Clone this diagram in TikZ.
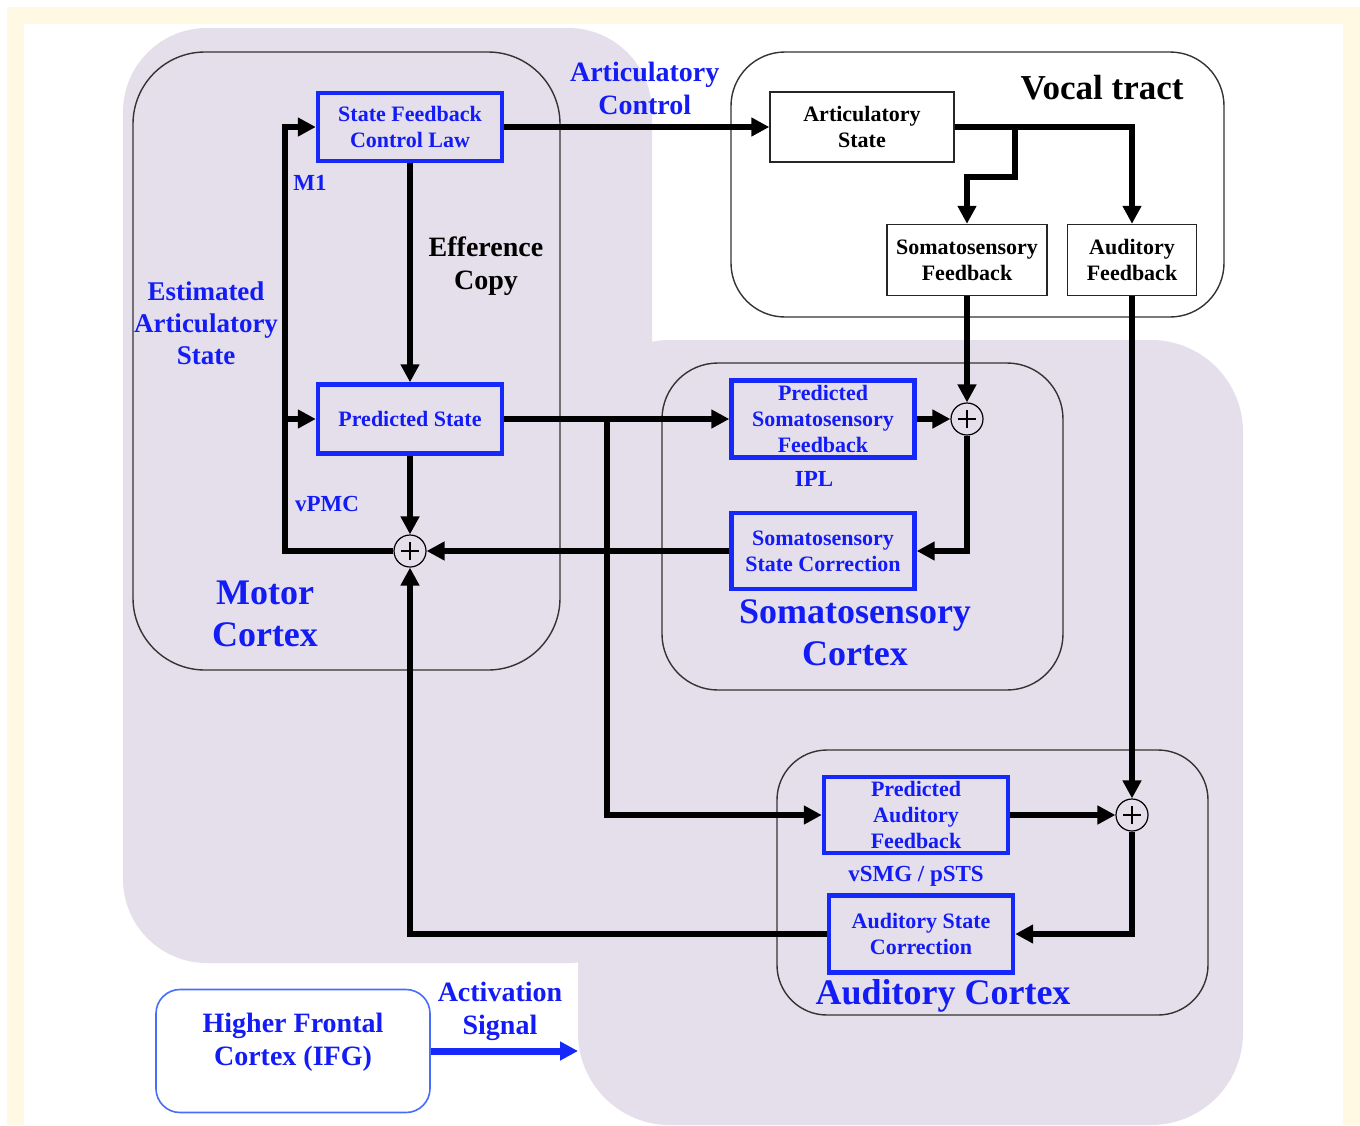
\documentclass[tikz,border=0pt]{standalone}
\usepackage{fontspec}
\setmainfont{Liberation Serif}
\usetikzlibrary{arrows.meta,positioning}
\definecolor{creamframe}{RGB}{255,248,226}
\definecolor{cortexlav}{RGB}{228,223,234}
\definecolor{boxblue}{RGB}{22,40,250}
\definecolor{labelblue}{RGB}{20,28,245}
\definecolor{ifgblue}{RGB}{70,110,250}

\begin{document}
\begin{tikzpicture}[x=0.5pt, y=-0.5pt,
    bbox/.style={draw=boxblue, line width=2.2pt, text=labelblue, font=\fontsize{11}{13}\selectfont\bfseries, align=center, inner sep=0pt},
    kbox/.style={draw=black!85, line width=0.7pt, fill=white, font=\fontsize{11}{13}\selectfont\bfseries, align=center, inner sep=0pt},
    cortex/.style={draw=black!80, line width=0.7pt},
    sumpt/.style={circle, draw=black, line width=0.6pt, minimum size=16pt, inner sep=0pt,
        path picture={\draw[line width=0.6pt]
            ([xshift=-4.5pt]path picture bounding box.center) -- ([xshift=4.5pt]path picture bounding box.center)
            ([yshift=-4.5pt]path picture bounding box.center) -- ([yshift=4.5pt]path picture bounding box.center);}},
    lbl/.style={inner sep=0pt, align=center, text=labelblue},
    txtS/.style={font=\fontsize{11.5}{13}\selectfont\bfseries},
    txtM/.style={font=\fontsize{14}{16.5}\selectfont\bfseries},
    txtL/.style={font=\fontsize{18}{21}\selectfont\bfseries},
    flow/.style={line width=2.7pt, -{Triangle[length=9pt,width=9pt]}}
]
% background and cortex areas
\fill[white] (0,0) rectangle (1360,1125);
\fill[creamframe] (7,7) rectangle (1360,1125);
\fill[white] (24,24) rectangle (1343,1125);
\fill[cortexlav, rounded corners=42pt] (123,28) rectangle (652,963);
\fill[cortexlav, rounded corners=46pt] (578,340) rectangle (1243,1125);
\useasboundingbox (0,0) rectangle (1360,1125);

\draw[cortex, rounded corners=36pt] (133,52) rectangle (560,670);
\draw[cortex, fill=white, rounded corners=27pt] (731,52) rectangle (1224,317);
\draw[cortex, rounded corners=28pt] (662,363) rectangle (1063,690);
\draw[cortex, rounded corners=25pt] (777,750) rectangle (1208,1015);

% blocks
\node[bbox, minimum width=92pt, minimum height=34pt] (sfcl) at (410,127) {State Feedback\\Control Law};
\node[bbox, minimum width=92pt, minimum height=34.5pt] (predstate) at (410,419) {Predicted State};
\node[bbox, minimum width=91.5pt, minimum height=38.5pt] (predsoma) at (823,419) {Predicted\\Somatosensory\\Feedback};
\node[bbox, minimum width=91.5pt, minimum height=38pt] (somacorr) at (823,551) {Somatosensory\\State Correction};
\node[bbox, minimum width=92pt, minimum height=38pt] (predaud) at (916,815) {Predicted\\Auditory\\Feedback};
\node[bbox, minimum width=92pt, minimum height=38.5pt] (audcorr) at (921,934) {Auditory State\\Correction};
\node[kbox, minimum width=92pt, minimum height=35pt] (artstate) at (862,127) {Articulatory\\State};
\node[kbox, minimum width=80pt, minimum height=35.5pt] (somafb) at (967,260) {Somatosensory\\Feedback};
\node[kbox, minimum width=64.5pt, minimum height=35.5pt] (audfb) at (1132,260) {Auditory\\Feedback};
\node[draw=ifgblue, line width=0.8pt, fill=white, rounded corners=12pt, minimum width=137pt, minimum height=61.5pt,
      text=labelblue, txtM, align=center, text depth=12pt] (hfc) at (293,1051) {Higher Frontal\\Cortex (IFG)};

\node[sumpt] (msum) at (410,551) {};
\node[sumpt] (ssum) at (967,419) {};
\node[sumpt] (asum) at (1132,815) {};

% labels
\node[lbl, txtL] (motorlbl) at (265,614) {Motor\\Cortex};
\node[lbl, txtL] (somalbl) at (855,633) {Somatosensory\\Cortex};
\node[lbl, txtL] (audlbl) at (943,996) {Auditory Cortex};
\node[lbl, text=black, font=\fontsize{17.5}{20}\selectfont\bfseries] (vocallbl) at (1102,88) {Vocal tract};
\node[lbl, txtS] (m1lbl) at (310,183) {M1};
\node[lbl, txtS] (vpmclbl) at (327,504) {vPMC};
\node[lbl, txtS] (ipllbl) at (814,479) {IPL};
\node[lbl, txtS] (vsmglbl) at (916,876) {vSMG / pSTS};
\node[lbl, font=\fontsize{13.5}{16}\selectfont\bfseries] (estlbl) at (206,323) {Estimated\\Articulatory\\State};

% connections
\coordinate (artsplit) at (1015,127);
\coordinate (fbleft) at (285,551);
\coordinate (predsplit) at (607,419);
\coordinate (actend) at (578,1051);

\draw[flow] (sfcl) -- node[lbl, txtM, above=5pt, pos=.53] (artctl) {Articulatory\\Control} (artstate);
\draw[flow] (sfcl) -- node[lbl, txtM, text=black, right=8pt, pos=.47] (effcopy) {Efference\\Copy} (predstate);
\draw[flow] (artstate) -| (audfb);
\draw[flow] (artsplit) -- ++(0,50) -| (somafb);
\draw[flow] (somafb) -- (ssum);
\draw[flow] (predsoma) -- (ssum);
\draw[flow] (ssum) |- (somacorr);
\draw[flow] (somacorr) -- (msum);
\draw[flow] (predstate) -- (msum);
\draw[flow] (msum) -- (fbleft) |- (sfcl);
\draw[flow] (fbleft |- predstate) -- (predstate);
\draw[flow] (predstate) -- (predsoma);
\draw[flow] (predsplit) |- (predaud);
\draw[flow] (audfb) -- (asum);
\draw[flow] (predaud) -- (asum);
\draw[flow] (asum) |- (audcorr);
\draw[flow] (audcorr) -| (msum);

\draw[boxblue, line width=3.5pt, -{Triangle[length=9pt,width=9pt]}] (hfc) -- node[lbl, txtM, above=3.5pt, pos=.47] (actlbl) {Activation\\Signal} (actend);
\end{tikzpicture}
\end{document}
